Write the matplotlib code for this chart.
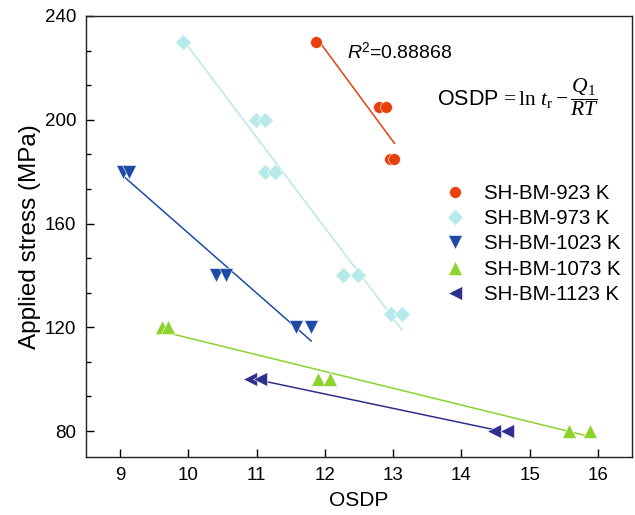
import numpy as np
import matplotlib
matplotlib.use("Agg")
import matplotlib.pyplot as plt
from matplotlib.ticker import AutoMinorLocator

plt.rcParams['font.family'] = ['Liberation Sans', 'DejaVu Sans']
plt.rcParams['mathtext.fontset'] = 'custom'
plt.rcParams['mathtext.rm'] = 'Liberation Serif'
plt.rcParams['mathtext.it'] = 'Liberation Serif:italic'
plt.rcParams['mathtext.sf'] = 'Liberation Sans:italic'
plt.rcParams['mathtext.bf'] = 'Liberation Sans'

# OSDP vs applied stress for each test temperature
labels = ["SH-BM-923 K", "SH-BM-973 K", "SH-BM-1023 K", "SH-BM-1073 K", "SH-BM-1123 K"]

osdp_923 = [11.87, 12.80, 12.89, 12.96, 13.02]
stress_923 = [230, 205, 205, 185, 185]

osdp_973 = [9.92, 10.99, 11.13, 11.13, 11.27, 12.26, 12.49, 12.97, 13.13]
stress_973 = [230, 200, 200, 180, 180, 140, 140, 125, 125]

osdp_1023 = [9.04, 9.13, 10.41, 10.55, 11.57, 11.80]
stress_1023 = [180, 180, 140, 140, 120, 120]

osdp_1073 = [9.62, 9.70, 11.90, 12.08, 15.58, 15.88]
stress_1073 = [120, 120, 100, 100, 80, 80]

osdp_1123 = [10.90, 11.05, 14.48, 14.67]
stress_1123 = [100, 100, 80, 80]

x_ticks = [9, 10, 11, 12, 13, 14, 15, 16]
y_ticks = [80, 120, 160, 200, 240]

series = [
    (osdp_923, stress_923, "o", "#E8400C", 8.5),
    (osdp_973, stress_973, "D", "#B6EAEA", 8.0),
    (osdp_1023, stress_1023, "v", "#1E4BA6", 9.5),
    (osdp_1073, stress_1073, "^", "#8ED22E", 9.5),
    (osdp_1123, stress_1123, "<", "#2F2F8E", 9.5),
]

fig = plt.figure(figsize=(6.35, 5.15), dpi=100)
ax = fig.add_axes([0.1354, 0.1126, 0.8599, 0.8564])

for (x, y, m, c, ms), lab in zip(series, labels):
    x = np.asarray(x, float)
    y = np.asarray(y, float)
    k, b = np.polyfit(x, y, 1)
    xf = np.array([x.min(), x.max()])
    ax.plot(xf, k * xf + b, color=c, lw=1.1, zorder=2)
    ax.plot(x, y, linestyle="none", marker=m, color=c, markersize=ms,
            markeredgecolor="white", markeredgewidth=0.4, label=lab, zorder=3)

ax.set_xlim(8.5, 16.5)
ax.set_ylim(70, 240)
ax.set_xticks(x_ticks)
ax.set_yticks(y_ticks)
ax.yaxis.set_minor_locator(AutoMinorLocator(3))
ax.tick_params(axis='both', which='major', direction='in', length=6, width=1.0,
               labelsize=13.5, pad=7)
ax.tick_params(axis='y', which='minor', direction='in', length=3.5, width=1.0)
for s in ax.spines.values():
    s.set_linewidth(1.0)
    s.set_color("#222222")

ax.set_xlabel("OSDP", fontsize=15, labelpad=5)
ax.set_ylabel("Applied stress (MPa)", fontsize=17.5, labelpad=3)

ax.text(12.33, 226.0, r"$\mathsf{R}^{\mathbf{2}}$=0.88868", fontsize=14,
        va="center", ha="left")
ax.text(13.64, 208.8, r"OSDP$\,=\ln\,t_{\rm r}-\dfrac{Q_1}{RT}$", fontsize=15.5,
        va="center", ha="left")

leg = ax.legend(loc="upper left", bbox_to_anchor=(0.639, 0.638), frameon=False,
                fontsize=14.7, handletextpad=0.8, labelspacing=0.31,
                handlelength=1.2, borderaxespad=0, borderpad=0.4)

fig.savefig("out.png", dpi=100)
